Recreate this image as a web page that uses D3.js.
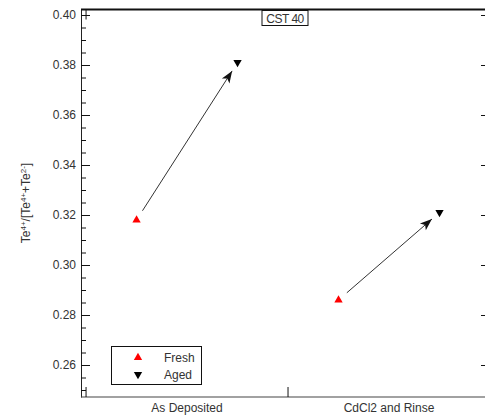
<!DOCTYPE html>
<html lang="en">
<head>
  <meta charset="UTF-8">
  <title>CST40 Te ratio</title>
  <script src="https://d3js.org/d3.v7.min.js"></script>
  <style>
    body { margin: 0; background: #fff; font-family: Arial, "Liberation Sans", sans-serif; }
    text { fill: #333; }
  </style>
</head>
<body>
  <div id="chart"></div>
  <script>
    // Data
    const categories = ["As Deposited", "CdCl2 and Rinse"];
    const fresh = [0.318, 0.286];
    const aged = [0.381, 0.321];
    const yMajor = [0.26, 0.28, 0.30, 0.32, 0.34, 0.36, 0.38, 0.40];
    const yMinor = d3.range(0, 31).map(i => +(0.25 + i * 0.005).toFixed(3));
    const xBounds = [-0.5, 0.5, 1.5];

    const width = 485, height = 418;

    const x = d3.scaleLinear().domain([-0.525, 1.5]).range([81, 490]);
    const y = d3.scaleLinear().domain([0.2472, 0.4022]).range([397, 9.5]);

    const svg = d3.select("#chart").append("svg")
        .attr("width", width)
        .attr("height", height)
        .style("font-family", "Arial, 'Liberation Sans', sans-serif");

    svg.append("defs").append("marker")
        .attr("id", "arrow")
        .attr("markerUnits", "userSpaceOnUse")
        .attr("viewBox", "-13 -6 14 12")
        .attr("refX", 0).attr("refY", 0)
        .attr("markerWidth", 14).attr("markerHeight", 12)
        .attr("orient", "auto")
      .append("path")
        .attr("d", "M0,0L-12,-4.5L-9,0L-12,4.5Z")
        .attr("fill", "#111");

    // Left axis: major + minor, ticks pointing inward
    const left = svg.append("g").attr("transform", `translate(${x.range()[0]},0)`);
    left.call(d3.axisLeft(y).tickValues(yMinor.filter(v => y(v) >= 9 && y(v) <= 397))
        .tickSize(-5).tickSizeOuter(0).tickFormat(""));
    left.append("g").call(d3.axisLeft(y).tickValues(yMajor).tickSize(-9).tickPadding(5)
        .tickFormat(d3.format(".2f")));
    left.selectAll("path.domain").attr("stroke", "#222");
    left.selectAll("g > g").select("path.domain").remove();
    left.selectAll("line").attr("stroke", "#111");
    left.selectAll("text").attr("font-size", 12).attr("fill", "#333")
        .attr("font-family", "Arial, 'Liberation Sans', sans-serif");

    // Right axis (mostly off-canvas)
    const right = svg.append("g").attr("transform", `translate(${x.range()[1]},0)`);
    right.call(d3.axisRight(y).tickValues(yMajor).tickSize(-9).tickSizeOuter(0).tickFormat(""));
    right.selectAll("line").attr("stroke", "#111");

    // Bottom and top frame with category boundary ticks
    svg.append("line")
        .attr("x1", x.range()[0]).attr("x2", x.range()[1])
        .attr("y1", y.range()[0]).attr("y2", y.range()[0])
        .attr("stroke", "#444").attr("stroke-width", 1.2);
    svg.append("line")
        .attr("x1", x.range()[0]).attr("x2", x.range()[1])
        .attr("y1", y.range()[1]).attr("y2", y.range()[1])
        .attr("stroke", "#111").attr("stroke-width", 2);
    svg.append("g").selectAll("line.bt").data(xBounds).join("line")
        .attr("x1", d => x(d)).attr("x2", d => x(d))
        .attr("y1", y.range()[0] - 10).attr("y2", y.range()[0])
        .attr("stroke", "#111");
    svg.append("g").selectAll("line.tt").data(xBounds).join("line")
        .attr("x1", d => x(d)).attr("x2", d => x(d))
        .attr("y1", y.range()[1]).attr("y2", y.range()[1] + 10)
        .attr("stroke", "#111");

    // Category labels
    svg.append("g").selectAll("text").data(categories).join("text")
        .attr("x", (d, i) => x(i))
        .attr("y", 412)
        .attr("text-anchor", "middle")
        .attr("font-size", 12)
        .text(d => d);

    // Y axis title
    const yt = svg.append("text")
        .attr("transform", "translate(30,203) rotate(-90)")
        .attr("text-anchor", "middle")
        .attr("font-size", 12);
    [["Te", false], ["4+", true], ["/[Te", false], ["4+", true], ["+Te", false], ["2-", true], ["]", false]]
      .forEach(([t, sup]) => {
        const ts = yt.append("tspan").text(t);
        if (sup) ts.attr("font-size", 8).attr("baseline-shift", "super");
      });

    // Arrows fresh -> aged
    function shorten(p1, p2, a, b) {
      const dx = p2[0] - p1[0], dy = p2[1] - p1[1];
      const L = Math.hypot(dx, dy);
      return [[p1[0] + dx * a / L, p1[1] + dy * a / L], [p2[0] - dx * b / L, p2[1] - dy * b / L]];
    }
    categories.forEach((c, i) => {
      const [s, e] = shorten([x(i - 0.25), y(fresh[i])], [x(i + 0.25), y(aged[i])], 11, 10);
      svg.append("line")
          .attr("x1", s[0]).attr("y1", s[1])
          .attr("x2", e[0]).attr("y2", e[1])
          .attr("stroke", "#333").attr("stroke-width", 1)
          .attr("marker-end", "url(#arrow)");
    });

    const tri = d3.symbol().type(d3.symbolTriangle).size(30);

    // Fresh points
    svg.append("g").selectAll("path").data(fresh).join("path")
        .attr("d", tri)
        .attr("transform", (d, i) => `translate(${x(i - 0.25)},${y(d)})`)
        .attr("fill", "#f00");

    // Aged points
    svg.append("g").selectAll("path").data(aged).join("path")
        .attr("d", tri)
        .attr("transform", (d, i) => `translate(${x(i + 0.25)},${y(d)}) rotate(180)`)
        .attr("fill", "#000");

    // Title box
    svg.append("rect")
        .attr("x", 262).attr("y", 10.5).attr("width", 46).attr("height", 15)
        .attr("fill", "#fff").attr("stroke", "#111");
    svg.append("text")
        .attr("x", 285).attr("y", 22.5)
        .attr("text-anchor", "middle")
        .attr("font-size", 12)
        .attr("letter-spacing", -0.5)
        .text("CST 40");

    // Legend
    const lg = svg.append("g");
    lg.append("rect")
        .attr("x", 111.5).attr("y", 346.5).attr("width", 90).attr("height", 38)
        .attr("fill", "#fff").attr("stroke", "#111");
    const legendItems = [["Fresh", "#f00", 0], ["Aged", "#000", 180]];
    legendItems.forEach(([name, col, rot], i) => {
      lg.append("path")
          .attr("d", tri)
          .attr("transform", `translate(138,${357.5 + i * 17}) rotate(${rot})`)
          .attr("fill", col);
      lg.append("text")
          .attr("x", 164).attr("y", 362 + i * 16.5)
          .attr("font-size", 12)
          .text(name);
    });
  </script>
</body>
</html>
